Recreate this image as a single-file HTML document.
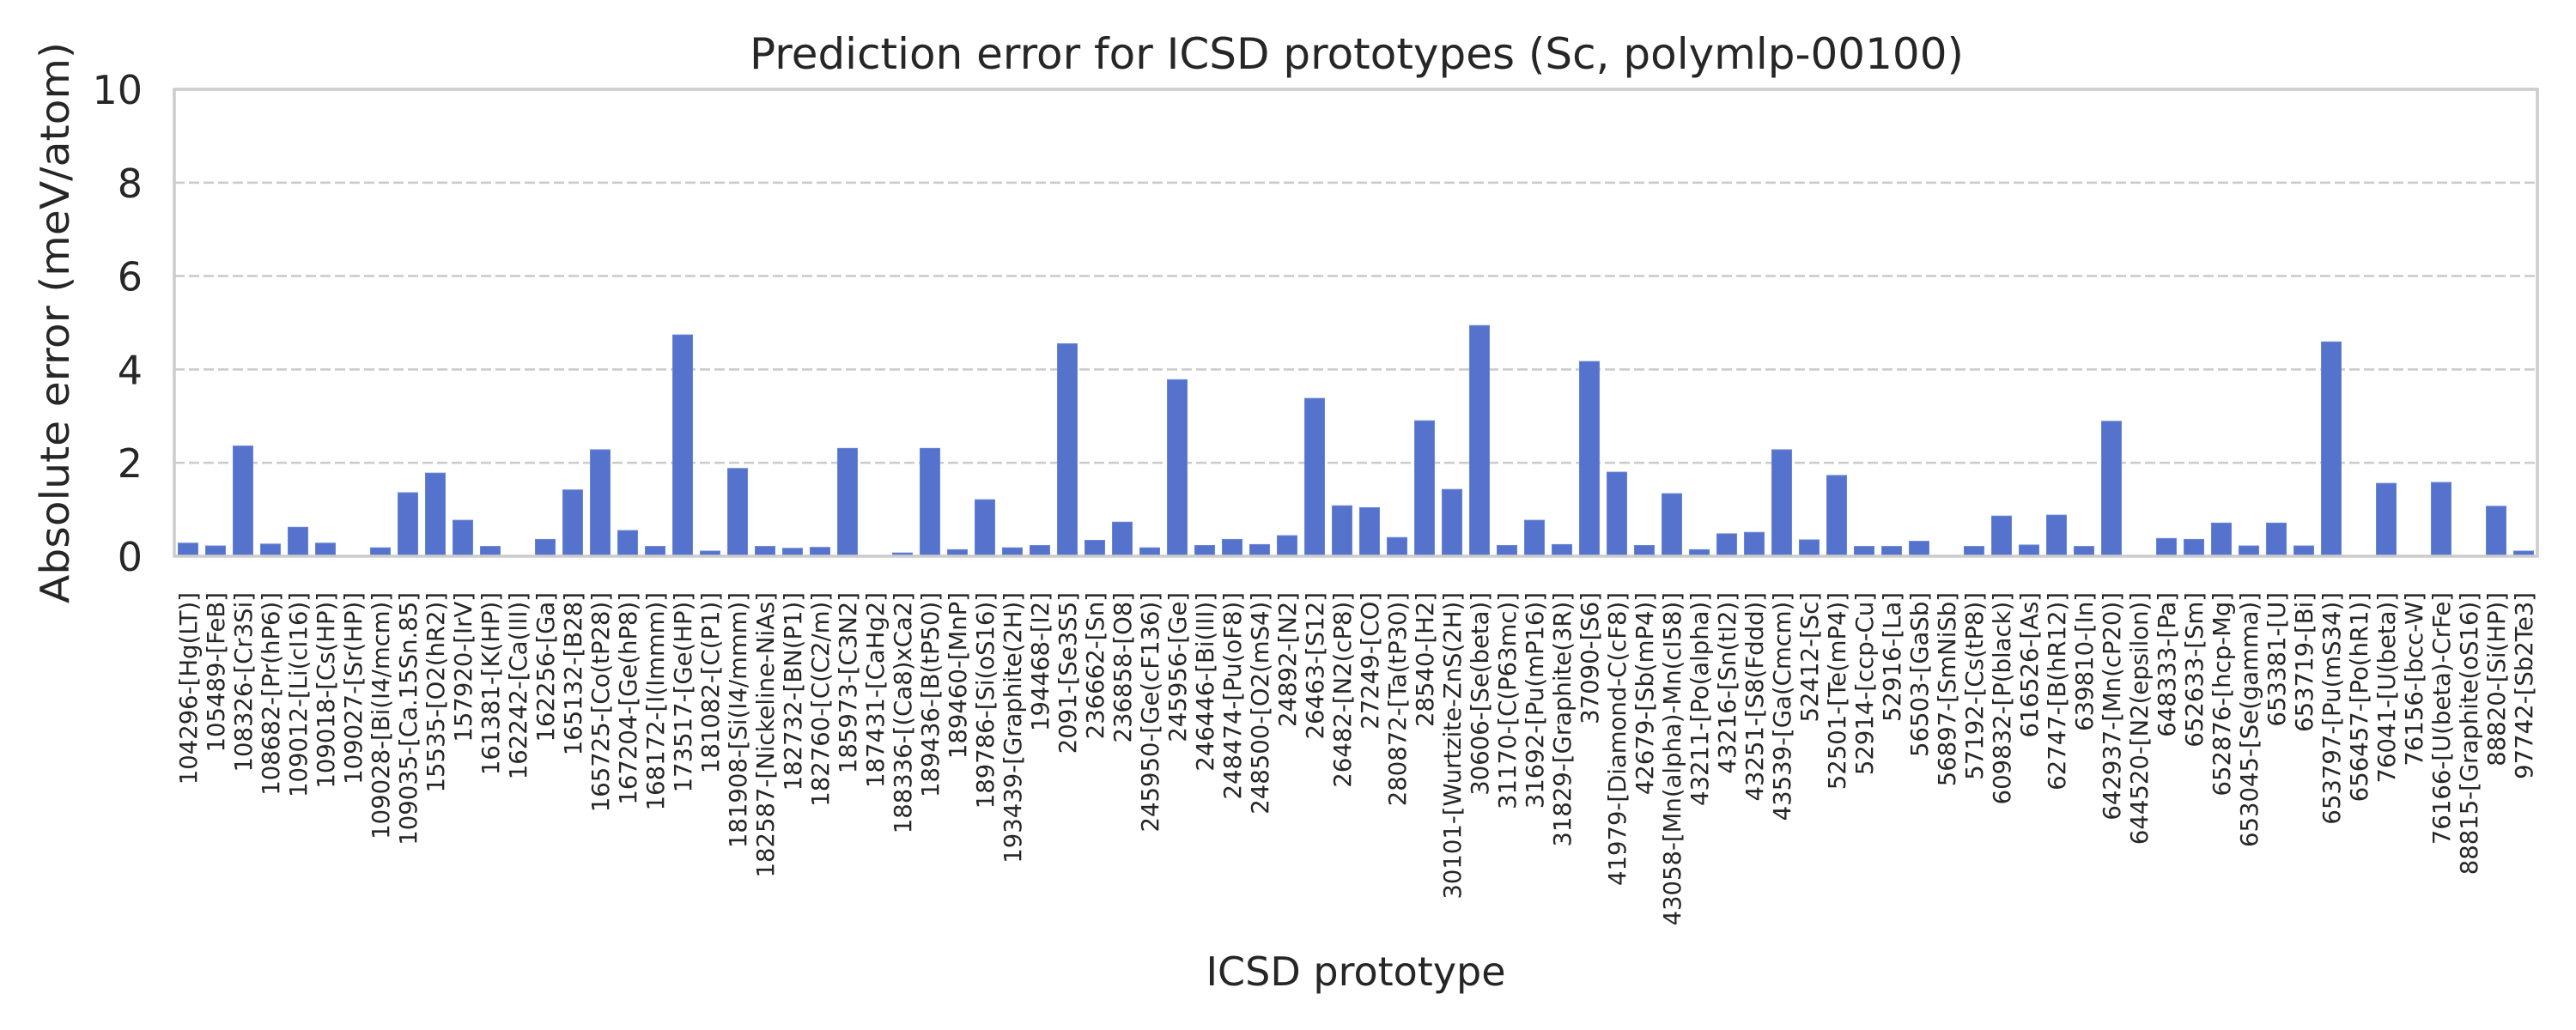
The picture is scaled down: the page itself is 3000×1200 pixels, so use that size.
<!DOCTYPE html>
<html><head><meta charset="utf-8">
<style>
html,body{margin:0;padding:0;background:#fff;}
svg{display:block;font-family:"DejaVu Sans","Liberation Sans",sans-serif;}
</style></head>
<body>
<svg id="chart" width="3000" height="1200" viewBox="0 0 3000 1200" xmlns="http://www.w3.org/2000/svg">
<rect x="0" y="0" width="3000" height="1200" fill="#ffffff"/>
<text x="1580" y="80" font-size="50" fill="#262626" text-anchor="middle" textLength="1414" lengthAdjust="spacingAndGlyphs">Prediction error for ICSD prototypes (Sc, polymlp-00100)</text>
<g id="grid"></g>
<g id="bars"></g>
<rect x="203" y="104" width="2752" height="544" fill="none" stroke="#cccccc" stroke-width="3.5"/>
<g id="yticks"></g>
<g id="xticks"></g>
<text transform="translate(80,376) rotate(-90)" font-size="46" fill="#262626" text-anchor="middle" textLength="654" lengthAdjust="spacingAndGlyphs">Absolute error (meV/atom)</text>
<text x="1579" y="1148" font-size="46" fill="#262626" text-anchor="middle">ICSD prototype</text>
</svg>
<script>
const categories = ["104296-[Hg(LT)]","105489-[FeB]","108326-[Cr3Si]","108682-[Pr(hP6)]","109012-[Li(cI16)]","109018-[Cs(HP)]","109027-[Sr(HP)]","109028-[Bi(I4/mcm)]","109035-[Ca.15Sn.85]","15535-[O2(hR2)]","157920-[IrV]","161381-[K(HP)]","162242-[Ca(III)]","162256-[Ga]","165132-[B28]","165725-[Co(tP28)]","167204-[Ge(hP8)]","168172-[I(Immm)]","173517-[Ge(HP)]","181082-[C(P1)]","181908-[Si(I4/mmm)]","182587-[Nickeline-NiAs]","182732-[BN(P1)]","182760-[C(C2/m)]","185973-[C3N2]","187431-[CaHg2]","188336-[(Ca8)xCa2]","189436-[B(tP50)]","189460-[MnP]","189786-[Si(oS16)]","193439-[Graphite(2H)]","194468-[I2]","2091-[Se3S5]","236662-[Sn]","236858-[O8]","245950-[Ge(cF136)]","245956-[Ge]","246446-[Bi(III)]","248474-[Pu(oF8)]","248500-[O2(mS4)]","24892-[N2]","26463-[S12]","26482-[N2(cP8)]","27249-[CO]","280872-[Ta(tP30)]","28540-[H2]","30101-[Wurtzite-ZnS(2H)]","30606-[Se(beta)]","31170-[C(P63mc)]","31692-[Pu(mP16)]","31829-[Graphite(3R)]","37090-[S6]","41979-[Diamond-C(cF8)]","42679-[Sb(mP4)]","43058-[Mn(alpha)-Mn(cI58)]","43211-[Po(alpha)]","43216-[Sn(tI2)]","43251-[S8(Fddd)]","43539-[Ga(Cmcm)]","52412-[Sc]","52501-[Te(mP4)]","52914-[ccp-Cu]","52916-[La]","56503-[GaSb]","56897-[SmNiSb]","57192-[Cs(tP8)]","609832-[P(black)]","616526-[As]","62747-[B(hR12)]","639810-[In]","642937-[Mn(cP20)]","644520-[N2(epsilon)]","648333-[Pa]","652633-[Sm]","652876-[hcp-Mg]","653045-[Se(gamma)]","653381-[U]","653719-[Bi]","653797-[Pu(mS34)]","656457-[Po(hR1)]","76041-[U(beta)]","76156-[bcc-W]","76166-[U(beta)-CrFe]","88815-[Graphite(oS16)]","88820-[Si(HP)]","97742-[Sb2Te3]"];
const errors = [0.28,0.22,2.36,0.26,0.62,0.28,0.01,0.18,1.36,1.78,0.77,0.21,0.02,0.36,1.42,2.28,0.55,0.21,4.74,0.11,1.88,0.21,0.17,0.19,2.31,0.01,0.07,2.31,0.14,1.21,0.18,0.23,4.55,0.34,0.73,0.18,3.78,0.23,0.36,0.25,0.44,3.38,1.08,1.04,0.40,2.90,1.43,4.94,0.23,0.77,0.25,4.17,1.80,0.23,1.34,0.14,0.48,0.51,2.28,0.35,1.73,0.21,0.21,0.32,0.02,0.21,0.86,0.24,0.88,0.21,2.89,0.02,0.38,0.36,0.71,0.22,0.71,0.22,4.59,0.0,1.56,0.02,1.58,0.0,1.07,0.11];
const yTicks = [0,2,4,6,8,10];
const yTickLabels = ["0","2","4","6","8","10"];

const NS = "http://www.w3.org/2000/svg";
const X0 = 203, X1 = 2955, Y0 = 648, Y1 = 104, YMAX = 10;
const step = (X1 - X0) / categories.length;
function xCenter(i){ return X0 + step * (i + 0.5); }
function yPos(v){ return Y0 - (v / YMAX) * (Y0 - Y1); }

const grid = document.getElementById('grid');
const yt = document.getElementById('yticks');
yTicks.forEach((t, k) => {
  if (t > 0 && t < YMAX) {
    const l = document.createElementNS(NS, 'line');
    l.setAttribute('x1', X0); l.setAttribute('x2', X1);
    l.setAttribute('y1', yPos(t)); l.setAttribute('y2', yPos(t));
    l.setAttribute('stroke', '#cccccc'); l.setAttribute('stroke-width', '2.6');
    l.setAttribute('stroke-dasharray', '12 5');
    
    
    grid.appendChild(l);
  }
  const tx = document.createElementNS(NS, 'text');
  tx.setAttribute('x', 166);
  tx.setAttribute('y', yPos(t) + 17);
  tx.setAttribute('font-size', '46');
  tx.setAttribute('fill', '#262626');
  tx.setAttribute('text-anchor', 'end');
  tx.textContent = yTickLabels[k];
  
  
  yt.appendChild(tx);
});

const bars = document.getElementById('bars');
const xt = document.getElementById('xticks');
const bw = step * 0.72;
categories.forEach((c, i) => {
  const v = errors[i];
  const r = document.createElementNS(NS, 'rect');
  r.setAttribute('x', xCenter(i) - bw / 2);
  r.setAttribute('y', yPos(v));
  r.setAttribute('width', bw);
  r.setAttribute('height', Math.max(0, Y0 - yPos(v)));
  r.setAttribute('fill', '#5573cd');
  r.setAttribute('stroke', '#6a86d6');
  r.setAttribute('stroke-width', '1');
  
  
  bars.appendChild(r);

  const tx = document.createElementNS(NS, 'text');
  tx.setAttribute('transform', 'translate(' + (xCenter(i) + 10) + ',690) rotate(-90)');
  tx.setAttribute('font-size', '27.5');
  tx.setAttribute('fill', '#262626');
  tx.setAttribute('text-anchor', 'end');
  tx.textContent = c;
  
  
  xt.appendChild(tx);
});
</script>
</body></html>
